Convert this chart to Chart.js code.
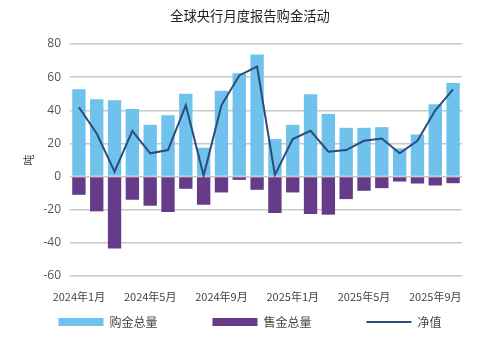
<!DOCTYPE html>
<html>
<head>
<meta charset="utf-8">
<script src="https://cdn.jsdelivr.net/npm/chart.js@4.4.1/dist/chart.umd.min.js"></script>
<style>
html,body{margin:0;padding:0;background:#fff;}
#wrap{width:500px;height:344px;position:relative;}
</style>
</head>
<body>
<div id="wrap"><canvas id="c" width="500" height="344"></canvas></div>
<script>
const months = ["2024年1月","2024年2月","2024年3月","2024年4月","2024年5月","2024年6月","2024年7月","2024年8月","2024年9月","2024年10月","2024年11月","2024年12月","2025年1月","2025年2月","2025年3月","2025年4月","2025年5月","2025年6月","2025年7月","2025年8月","2025年9月","2025年10月"];
const shownTicks = ["2024年1月","2024年5月","2024年9月","2025年1月","2025年5月","2025年9月"];
const purchases = [52.6,46.6,46,40.8,31.2,37,50,17.4,51.8,62.4,73.6,22.6,31.2,49.6,37.8,29.4,29.4,29.8,17,25.4,43.6,56.4];
const sales = [-11,-21,-43.4,-14,-17.6,-21.4,-7.4,-17,-9.6,-2,-8,-22,-9.6,-22.6,-23,-13.6,-8.6,-7,-3,-4.2,-5.4,-4];
const net = [41.8,26,3,27.6,14,16,43,0.6,43,61,66.4,1,22.6,27.6,15,16,21.6,23,14,21.6,40,52.6];
const seriesNames = ["购金总量","售金总量","净值"];

const FONT = "'Noto Sans CJK SC','Noto Sans',sans-serif";
const GAP = '\u3000\u3000\u3000\u2002';

new Chart(document.getElementById('c'), {
  data: {
    labels: months,
    datasets: [
      {type:'line', label: seriesNames[2], data: net, borderColor:'#2D4B7C', backgroundColor:'#2D4B7C', borderWidth:2, pointRadius:0, tension:0, order:0},
      {type:'bar', label: seriesNames[0], data: purchases, backgroundColor:'#6EC2EC', grouped:false, barPercentage:0.75, categoryPercentage:1, order:1},
      {type:'bar', label: seriesNames[1], data: sales, backgroundColor:'#653B8A', grouped:false, barPercentage:0.75, categoryPercentage:1, order:1}
    ]
  },
  options: {
    responsive:false,
    animation:false,
    layout:{padding:{left:0,right:0,top:0,bottom:6}},
    plugins:{
      title:{display:true, text:'全球央行月度报告购金活动', color:'#222', font:{family:FONT,size:13.3,weight:'normal'}, padding:{top:8,bottom:20}},
      legend:{
        position:'bottom',
        labels:{
          font:{family:FONT,size:12}, color:'#444',
          usePointStyle:true, pointStyleWidth:45, boxHeight:8, padding:13,
          sort:(a,b)=>[1,2,0].indexOf(a.datasetIndex)-[1,2,0].indexOf(b.datasetIndex),
          generateLabels:(chart)=>{
            const items = Chart.defaults.plugins.legend.labels.generateLabels(chart);
            items.forEach(it=>{
              const ds = chart.data.datasets[it.datasetIndex];
              if (ds.type==='line'){ it.pointStyle='line'; it.strokeStyle=ds.borderColor; it.lineWidth=2; }
              else { it.pointStyle='rect'; it.fillStyle=ds.backgroundColor; it.strokeStyle=ds.backgroundColor; it.lineWidth=0; it.text = it.text + GAP; }
            });
            return items;
          }
        }
      },
      tooltip:{enabled:false}
    },
    scales:{
      x:{
        grid:{display:false, drawTicks:false},
        border:{display:false},
        ticks:{autoSkip:false, maxRotation:0, padding:14, color:'#444', font:{family:FONT,size:11},
          callback:function(v,i){ const l=this.getLabelForValue(v); return shownTicks.includes(l)?l:''; }},
        afterFit:(s)=>{ s.height = 27; }
      },
      y:{
        min:-60, max:80,
        ticks:{stepSize:20, color:'#555', padding:9, font:{family:"'Open Sans',sans-serif",size:12}},
        grid:{color:'#c8c8c8', lineWidth:1.5, drawTicks:false},
        border:{display:false},
        title:{display:true, text:'吨', color:'#444', font:{family:FONT,size:11}, padding:{top:22,bottom:0}},
        afterFit:(s)=>{ s.width = 70; }
      },
      y2:{
        position:'right', min:-60, max:80, display:true,
        grid:{display:false, drawTicks:false}, border:{display:false},
        ticks:{display:false},
        afterFit:(s)=>{ s.width = 38; }
      }
    }
  }
});
</script>
</body>
</html>
